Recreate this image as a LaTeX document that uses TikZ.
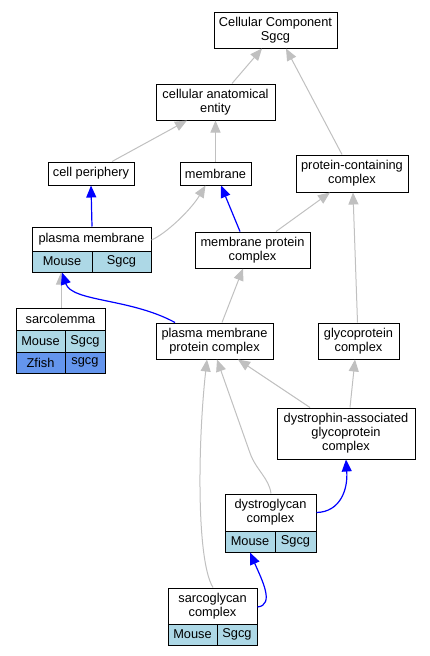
\documentclass[tikz,border=0pt]{standalone}
\usepackage{fontspec}
\setmainfont{Liberation Sans}
\usetikzlibrary{arrows.meta}
\definecolor{cellblue}{HTML}{ADD8E6}
\definecolor{zfblue}{HTML}{6495ED}
\definecolor{edgegray}{HTML}{C0C0C0}
\definecolor{edgeblue}{HTML}{0000FF}
\begin{document}
\begin{tikzpicture}[x=1pt,y=-1pt,
  box/.style={draw=black, line width=1pt, fill=white, inner sep=0pt, align=center, font=\fontsize{12.8}{14}\selectfont},
  mcell/.style={box, fill=cellblue},
  zcell/.style={box, fill=zfblue},
  ge/.style={draw=edgegray, line width=1pt, -{Triangle[length=12pt,width=10pt]}},
  be/.style={draw=edgeblue, line width=1.2pt, -{Triangle[length=12pt,width=10pt]}}
]
\useasboundingbox (0,0) rectangle (429,656);

% nodes
\node[box, minimum width=123pt, minimum height=36pt] (cc) at (275.5,30) {Cellular Component\\Sgcg};
\node[box, minimum width=119pt, minimum height=36pt] (cae) at (215.5,102) {cellular anatomical\\entity};
\node[box, minimum width=86pt, minimum height=23pt] (cp) at (91,173.5) {cell periphery};
\node[box, minimum width=71pt, minimum height=23pt] (mem) at (215.5,173.5) {membrane};
\node[box, minimum width=112pt, minimum height=37pt] (pcc) at (352,173.5) {protein-containing\\complex};

\node[box, minimum width=119pt, minimum height=24pt] (pm) at (91.5,239) {plasma membrane};
\node[mcell, minimum width=60pt, minimum height=21pt] (pmM) at (62,261.5) {Mouse};
\node[mcell, minimum width=59pt, minimum height=21pt] (pmS) at (121.5,261.5) {Sgcg};

\node[box, minimum width=115pt, minimum height=36pt] (mpc) at (252.5,250) {membrane protein\\complex};

\node[box, minimum width=89pt, minimum height=22pt] (sarc) at (60.5,319) {sarcolemma};
\node[mcell, minimum width=49pt, minimum height=22pt] (sarcM) at (40.5,341) {Mouse};
\node[mcell, minimum width=40pt, minimum height=22pt] (sarcS) at (85,341) {Sgcg};
\node[zcell, minimum width=49pt, minimum height=21pt] (sarcZ) at (40.5,362.5) {Zfish};
\node[zcell, minimum width=40pt, minimum height=21pt] (sarcZs) at (85,362.5) {sgcg};

\node[box, minimum width=117pt, minimum height=36pt] (pmpc) at (214.5,341) {plasma membrane\\protein complex};
\node[box, minimum width=81pt, minimum height=36pt] (gpc) at (358.5,341) {glycoprotein\\complex};
\node[box, minimum width=138pt, minimum height=51pt] (dagc) at (346,433.5) {dystrophin-associated\\glycoprotein\\complex};

\node[box, minimum width=91pt, minimum height=37pt] (dgc) at (270.5,512.5) {dystroglycan\\complex};
\node[mcell, minimum width=50pt, minimum height=21pt] (dgcM) at (250,541.5) {Mouse};
\node[mcell, minimum width=41pt, minimum height=21pt] (dgcS) at (295.5,541.5) {Sgcg};

\node[box, minimum width=89pt, minimum height=36pt] (sgc) at (212.5,606) {sarcoglycan\\complex};
\node[mcell, minimum width=49pt, minimum height=21pt] (sgcM) at (192.5,634.5) {Mouse};
\node[mcell, minimum width=40pt, minimum height=21pt] (sgcS) at (237,634.5) {Sgcg};

% edges
\draw[ge] ([xshift=16.5pt]cae.north) -- ([xshift=-13.5pt]cc.south);
\draw[ge] ([xshift=-10pt]pcc.north) -- ([xshift=10.5pt]cc.south);
\draw[ge] ([xshift=21pt]cp.north) -- ([xshift=-28.5pt]cae.south);
\draw[ge] (mem.north) -- (cae.south);
\draw[be] ([xshift=0.5pt]pm.north) -- (cp.south);
\draw[ge] ([yshift=-1pt]pm.east) .. controls +(14,-6) and +(-15,25) .. ([xshift=-10pt]mem.south);
\draw[be] ([xshift=-12.5pt]mpc.north) -- ([xshift=5.5pt]mem.south);
\draw[ge] ([xshift=23.5pt]mpc.north) -- ([xshift=-22pt]pcc.south);
\draw[ge] ([xshift=-1pt]gpc.north) -- ([xshift=1pt]pcc.south);
\draw[ge] ([xshift=0.5pt]sarc.north) -- ([xshift=-1pt]pmM.south);
\draw[be] ([xshift=-39.5pt]pmpc.north) .. controls (130,298) and (72,302) .. (pmM.south);
\draw[ge] ([xshift=7.5pt]pmpc.north) -- ([xshift=-9.5pt]mpc.south);
\draw[ge] ([xshift=-36pt]dagc.north) -- ([xshift=23.5pt]pmpc.south);
\draw[ge] ([xshift=4pt]dagc.north) -- ([xshift=-3.5pt]gpc.south);
\draw[ge] ([xshift=0.5pt]dgc.north) .. controls (269,478) and (256,470) .. (250,453) -- ([xshift=2.5pt]pmpc.south);
\draw[ge] ([xshift=0.5pt]sgc.north) .. controls (196,560) and (198,440) .. ([xshift=-7.5pt]pmpc.south);
\draw[be] (dgc.east) .. controls (340,512) and (348,490) .. (dagc.south);
\draw[be] ([yshift=-1pt]sgc.east) .. controls (275,605) and (262,580) .. (dgcM.south);
\end{tikzpicture}
\end{document}
